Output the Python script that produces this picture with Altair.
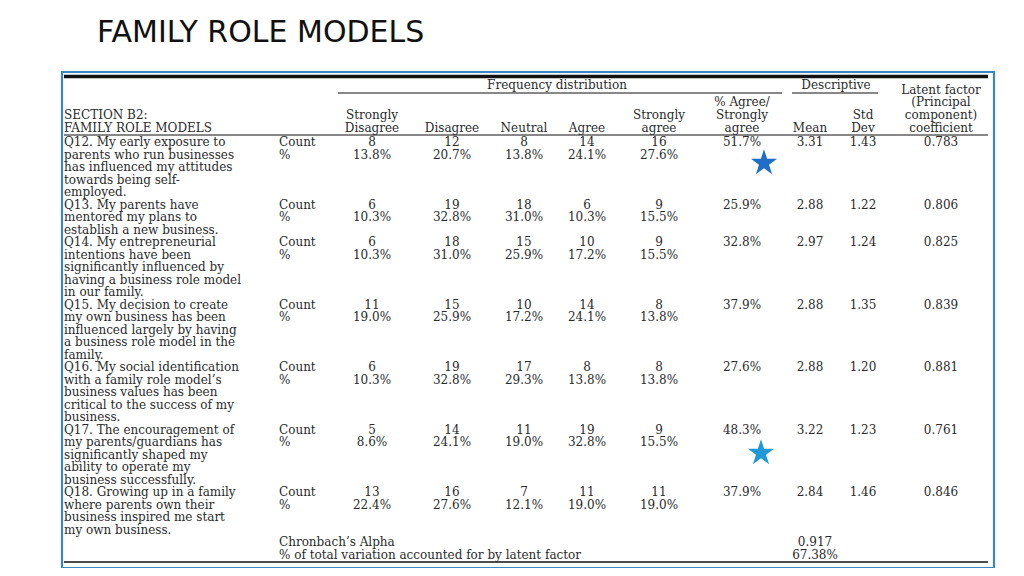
import altair as alt
import pandas as pd

# ---------------- data ----------------
title = "FAMILY ROLE MODELS"
section_label = ["SECTION B2:", "FAMILY ROLE MODELS"]
questions = [
    ["Q12. My early exposure to", "parents who run businesses", "has influenced my attitudes",
     "towards being self-", "employed."],
    ["Q13. My parents have", "mentored my plans to", "establish a new business."],
    ["Q14. My entrepreneurial", "intentions have been", "significantly influenced by",
     "having a business role model", "in our family."],
    ["Q15. My decision to create", "my own business has been", "influenced largely by having",
     "a business role model in the", "family."],
    ["Q16. My social identification", "with a family role model\u2019s", "business values has been",
     "critical to the success of my", "business."],
    ["Q17. The encouragement of", "my parents/guardians has", "significantly shaped my",
     "ability to operate my", "business successfully."],
    ["Q18. Growing up in a family", "where parents own their", "business inspired me start",
     "my own business."],
]
sd_count = [8, 6, 6, 11, 6, 5, 13]
d_count = [12, 19, 18, 15, 19, 14, 16]
n_count = [8, 18, 15, 10, 17, 11, 7]
a_count = [14, 6, 10, 14, 8, 19, 11]
sa_count = [16, 9, 9, 8, 8, 9, 11]
sd_pct = ["13.8%", "10.3%", "10.3%", "19.0%", "10.3%", "8.6%", "22.4%"]
d_pct = ["20.7%", "32.8%", "31.0%", "25.9%", "32.8%", "24.1%", "27.6%"]
n_pct = ["13.8%", "31.0%", "25.9%", "17.2%", "29.3%", "19.0%", "12.1%"]
a_pct = ["24.1%", "10.3%", "17.2%", "24.1%", "13.8%", "32.8%", "19.0%"]
sa_pct = ["27.6%", "15.5%", "15.5%", "13.8%", "13.8%", "15.5%", "19.0%"]
agree_pct = ["51.7%", "25.9%", "32.8%", "37.9%", "27.6%", "48.3%", "37.9%"]
mean = ["3.31", "2.88", "2.97", "2.88", "2.88", "3.22", "2.84"]
std_dev = ["1.43", "1.22", "1.24", "1.35", "1.20", "1.23", "1.46"]
latent = ["0.783", "0.806", "0.825", "0.839", "0.881", "0.761", "0.846"]
group_headers = ["Frequency distribution", "Descriptive"]
col_headers = {
    "sd": ["Strongly", "Disagree"],
    "d": ["Disagree"],
    "n": ["Neutral"],
    "a": ["Agree"],
    "sa": ["Strongly", "agree"],
    "agree": ["% Agree/", "Strongly", "agree"],
    "mean": ["Mean"],
    "std": ["Std", "Dev"],
    "latent": ["Latent factor", "(Principal", "component)", "coefficient"],
}
stat_labels = ["Count", "%"]
footer_labels = ["Chronbach\u2019s Alpha", "% of total variation accounted for by latent factor"]
footer_values = ["0.917", "67.38%"]
starred_rows = [0, 5]
star_colors = ["#1f6fc6", "#1f9ad6"]

# ---------------- layout (page pixels) ----------------
W, H = 1008, 560
LEFT, STAT_X = 64, 279
COLX = {"sd": 372, "d": 452, "n": 524, "a": 587, "sa": 659,
        "agree": 742, "mean": 810, "std": 863, "latent": 941}
HEAD_BOTTOM = 128
HEAD_STEP = 12.8
ROW_TOP = 142
LINE = 12.5
FONT = "DejaVu Serif"
FS = 12
INK = "#2a2a2a"
STAR_PATH = ("M0,-1L0.2245,-0.309L0.9511,-0.309L0.3633,0.118L0.5878,0.809L0,0.382"
             "L-0.5878,0.809L-0.3633,0.118L-0.9511,-0.309L-0.2245,-0.309Z")
STAR_DX = [764, 761]
STAR_DY = [21, 23.5]

left_txt, center_txt = [], []
# header
for i, t in enumerate(section_label):
    left_txt.append(dict(x=LEFT, y=HEAD_BOTTOM - (len(section_label) - 1 - i) * HEAD_STEP, t=t))
for key, lines in col_headers.items():
    for i, t in enumerate(lines):
        center_txt.append(dict(x=COLX[key], y=HEAD_BOTTOM - (len(lines) - 1 - i) * HEAD_STEP, t=t))
center_txt.append(dict(x=557, y=85, t=group_headers[0]))
center_txt.append(dict(x=836, y=85, t=group_headers[1]))

# body
row_y = []
line_idx = 0
for q in questions:
    y0 = ROW_TOP + line_idx * LINE
    row_y.append(y0)
    for j, t in enumerate(q):
        left_txt.append(dict(x=LEFT, y=y0 + j * LINE, t=t))
    line_idx += len(q)
for r, y0 in enumerate(row_y):
    left_txt.append(dict(x=STAT_X, y=y0, t=stat_labels[0]))
    left_txt.append(dict(x=STAT_X, y=y0 + LINE, t=stat_labels[1]))
    for key, cnt, pct in [("sd", sd_count, sd_pct), ("d", d_count, d_pct), ("n", n_count, n_pct),
                          ("a", a_count, a_pct), ("sa", sa_count, sa_pct)]:
        center_txt.append(dict(x=COLX[key], y=y0, t=str(cnt[r])))
        center_txt.append(dict(x=COLX[key], y=y0 + LINE, t=pct[r]))
    for key, arr in [("agree", agree_pct), ("mean", mean), ("std", std_dev), ("latent", latent)]:
        center_txt.append(dict(x=COLX[key], y=y0, t=arr[r]))
foot_y = ROW_TOP + line_idx * LINE
for i in range(2):
    left_txt.append(dict(x=STAT_X, y=foot_y + i * LINE, t=footer_labels[i]))
    center_txt.append(dict(x=815, y=foot_y + i * LINE, t=footer_values[i]))

rules = pd.DataFrame([
    dict(x=64, x2=988, y=76.5, w=3.5),
    dict(x=338, x2=782, y=93, w=1),
    dict(x=792, x2=878, y=93, w=1),
    dict(x=64, x2=988, y=135, w=1.2),
    dict(x=64, x2=988, y=562, w=1.5),
])
frame = pd.DataFrame([dict(x=62, x2=994, y=72, y2=568)])
stars = pd.DataFrame([dict(x=STAR_DX[i], y=row_y[r] + STAR_DY[i], c=star_colors[i])
                      for i, r in enumerate(starred_rows)])
title_df = pd.DataFrame([dict(x=97, y=42, t=title)])

xs = alt.Scale(domain=[8, 8 + W], nice=False, zero=False)
ys = alt.Scale(domain=[8, 8 + H], nice=False, zero=False, reverse=True)


def X(f="x"):
    return alt.X(f"{f}:Q", scale=xs, axis=None)


def Y(f="y"):
    return alt.Y(f"{f}:Q", scale=ys, axis=None)


frame_l = alt.Chart(frame).mark_rect(filled=False, stroke="#3c86c8", strokeWidth=2.2).encode(
    x=X(), x2="x2:Q", y=Y(), y2="y2:Q")
rule_l = alt.Chart(rules).mark_rule(color="#111111").encode(
    x=X(), x2="x2:Q", y=Y(), size=alt.Size("w:Q", scale=None, legend=None))
left_l = alt.Chart(pd.DataFrame(left_txt)).mark_text(
    align="left", baseline="middle", font=FONT, fontSize=FS, color=INK).encode(
    x=X(), y=Y(), text="t:N")
center_l = alt.Chart(pd.DataFrame(center_txt)).mark_text(
    align="center", baseline="middle", font=FONT, fontSize=FS, color=INK).encode(
    x=X(), y=Y(), text="t:N")
title_l = alt.Chart(title_df).mark_text(
    align="left", baseline="alphabetic", font="DejaVu Sans",
    fontSize=30, color="#111111").encode(x=X(), y=Y(), text="t:N")
star_l = alt.Chart(stars).mark_point(shape=STAR_PATH, filled=True, opacity=1, size=760,
                                     strokeWidth=0).encode(
    x=X(), y=Y(), fill=alt.Fill("c:N", scale=None, legend=None))

chart = alt.layer(frame_l, rule_l, left_l, center_l, title_l, star_l).properties(
    width=W, height=H, padding=0, autosize=alt.AutoSizeParams(type="none"),
    background="white").configure_view(stroke=None)

chart.save("out.html", embed_options={"renderer": "svg", "actions": False})
